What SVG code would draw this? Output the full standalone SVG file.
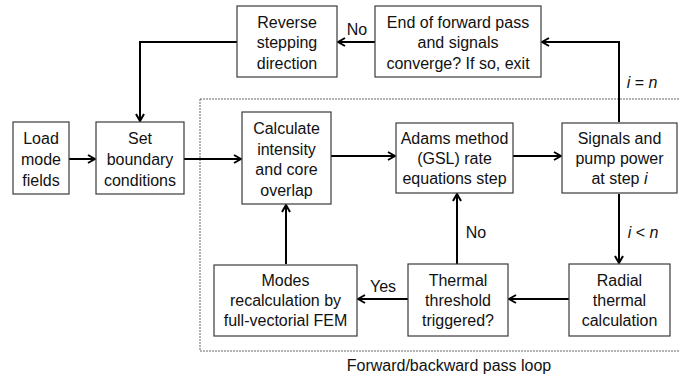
<svg xmlns="http://www.w3.org/2000/svg" width="680" height="377" viewBox="0 0 680 377">
<defs>
<style>
.box{fill:#fff;stroke:#3a3a3a;stroke-width:1.2}
.t{font-family:"Liberation Sans",Arial,sans-serif;font-size:16px;fill:#111;text-anchor:middle}
.lbl{font-family:"Liberation Sans",Arial,sans-serif;font-size:16px;fill:#111}
.c{fill:none;stroke:#000;stroke-width:2;marker-end:url(#ah)}
.loop{fill:none;stroke:#666;stroke-width:1;stroke-dasharray:2 1}
</style>
<marker id="ah" viewBox="0 0 10 10" refX="9" refY="5" markerWidth="10" markerHeight="10" markerUnits="userSpaceOnUse" orient="auto">
<path d="M2,1 L9,5 L2,9" fill="none" stroke="#000" stroke-width="2"/>
</marker>
</defs>
<rect class="loop" x="200" y="99" width="484" height="252"/>
<text class="lbl" x="449" y="371" text-anchor="middle">Forward/backward pass loop</text>
<g id="connectors">
<path class="c" d="M69,159 H95"/>
<path class="c" d="M184,159 H241"/>
<path class="c" d="M331,156 H395"/>
<path class="c" d="M513,156 H561"/>
<path class="c" d="M237,42 H140 V121"/>
<path class="c" d="M375,42 H338"/>
<path class="c" d="M619,122 V42 H542"/>
<path class="c" d="M619,194 V263"/>
<path class="c" d="M569,299 H509"/>
<path class="c" d="M408,299 H358"/>
<path class="c" d="M457,264 V194"/>
<path class="c" d="M286,264 V205"/>
<text class="lbl" x="357" y="35" text-anchor="middle">No</text>
<text class="lbl" x="642" y="88" text-anchor="middle"><tspan font-style="italic">i</tspan> = <tspan font-style="italic">n</tspan></text>
<text class="lbl" x="643" y="238" text-anchor="middle"><tspan font-style="italic">i</tspan> &lt; <tspan font-style="italic">n</tspan></text>
<text class="lbl" x="476" y="238" text-anchor="middle">No</text>
<text class="lbl" x="383" y="292" text-anchor="middle">Yes</text>
</g>
<g id="load"><rect class="box" x="13" y="122" width="56" height="72"/>
<text class="t" x="41" y="144">Load</text><text class="t" x="41" y="165">mode</text><text class="t" x="41" y="186">fields</text></g>
<g id="set"><rect class="box" x="96" y="122" width="88" height="72"/>
<text class="t" x="140" y="144">Set</text><text class="t" x="140" y="165">boundary</text><text class="t" x="140" y="186">conditions</text></g>
<g id="reverse"><rect class="box" x="237" y="6" width="100" height="71"/>
<text class="t" x="287" y="27.5">Reverse</text><text class="t" x="287" y="48">stepping</text><text class="t" x="287" y="68.5">direction</text></g>
<g id="end"><rect class="box" x="375" y="6" width="166" height="71"/>
<text class="t" x="458" y="27.5">End of forward pass</text><text class="t" x="458" y="48">and signals</text><text class="t" x="458" y="68.5">converge? If so, exit</text></g>
<g id="calc"><rect class="box" x="242" y="112" width="89" height="92"/>
<text class="t" x="286.5" y="133.5">Calculate</text><text class="t" x="286.5" y="154.5">intensity</text><text class="t" x="286.5" y="175">and core</text><text class="t" x="286.5" y="195.5">overlap</text></g>
<g id="adams"><rect class="box" x="396" y="123" width="117" height="70"/>
<text class="t" x="454.5" y="143.5">Adams method</text><text class="t" x="454.5" y="164">(GSL) rate</text><text class="t" x="454.5" y="184">equations step</text></g>
<g id="signals"><rect class="box" x="562" y="123" width="115" height="70"/>
<text class="t" x="619.5" y="143.5">Signals and</text><text class="t" x="619.5" y="164">pump power</text><text class="t" x="619.5" y="184">at step <tspan font-style="italic">i</tspan></text></g>
<g id="modes"><rect class="box" x="214" y="265" width="143" height="71"/>
<text class="t" x="285.5" y="285.5">Modes</text><text class="t" x="285.5" y="306">recalculation by</text><text class="t" x="285.5" y="326">full-vectorial FEM</text></g>
<g id="thermal"><rect class="box" x="408" y="264" width="100" height="72"/>
<text class="t" x="458" y="285.5">Thermal</text><text class="t" x="458" y="306">threshold</text><text class="t" x="458" y="326">triggered?</text></g>
<g id="radial"><rect class="box" x="569" y="264" width="101" height="72"/>
<text class="t" x="619.5" y="285.5">Radial</text><text class="t" x="619.5" y="306">thermal</text><text class="t" x="619.5" y="326">calculation</text></g>
</svg>
